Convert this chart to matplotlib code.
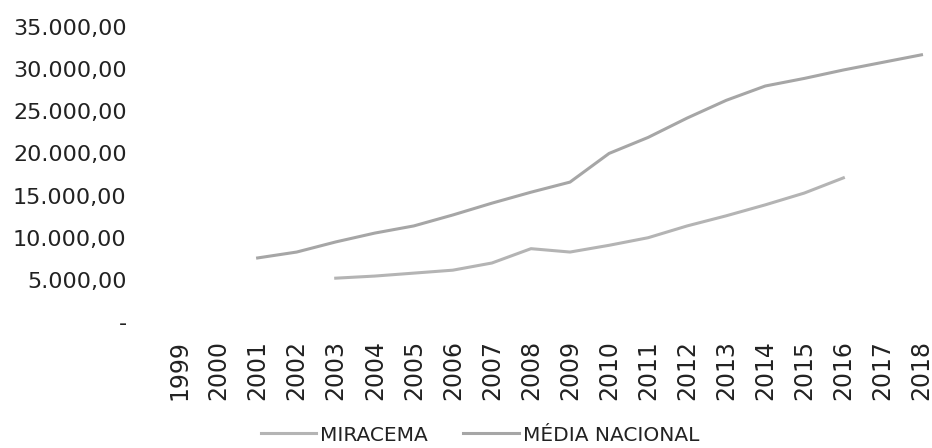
import matplotlib
matplotlib.use("Agg")
from matplotlib import pyplot as plt

years = list(range(1999, 2019))

# Valores (R$)
miracema_anos = list(range(2003, 2017))
miracema = [5200, 5450, 5800, 6150, 7000, 8700, 8300,
            9100, 10000, 11400, 12600, 13900, 15300, 17100]

media_anos = list(range(2001, 2019))
media_nacional = [7600, 8300, 9500, 10550, 11400, 12700, 14100, 15400, 16600,
                  20000, 21900, 24200, 26300, 28000, 28900, 29900, 30800, 31700]

y_ticks = [0, 5000, 10000, 15000, 20000, 25000, 30000, 35000]


def br_format(v):
    if v == 0:
        return "-"
    s = f"{v:,.2f}"
    return s.replace(",", "X").replace(".", ",").replace("X", ".")


plt.rcParams["font.family"] = "DejaVu Sans"
fig = plt.figure(figsize=(9.32, 4.48), dpi=100)
ax = fig.add_axes([160 / 932, (448 - 322) / 448, (932 - 160) / 932, (322 - 27) / 448])

ax.plot(miracema_anos, miracema, color="#b4b4b4", lw=2.2, label="MIRACEMA")
ax.plot(media_anos, media_nacional, color="#a6a6a6", lw=2.2, label="MÉDIA NACIONAL")

ax.set_xlim(1998.5, 1998.5 + 772 / 39.05)
ax.set_ylim(0, 35000)
ax.set_xticks(years)
ax.set_xticklabels([str(y) for y in years], rotation=90, fontsize=17, color="#222222")
ax.set_yticks(y_ticks)
ax.set_yticklabels([br_format(v) for v in y_ticks], fontsize=16, color="#222222")
ax.tick_params(axis="y", length=0, pad=24)
ax.tick_params(axis="x", length=0, pad=13)
for s in ax.spines.values():
    s.set_visible(False)

fig.legend(loc="center", bbox_to_anchor=(480 / 932, 13 / 448), ncol=2,
           frameon=False, fontsize=14.5, handlelength=2.75, handletextpad=0.2,
           columnspacing=1.75, labelcolor="#222222")

fig.savefig("out.png", dpi=100)
